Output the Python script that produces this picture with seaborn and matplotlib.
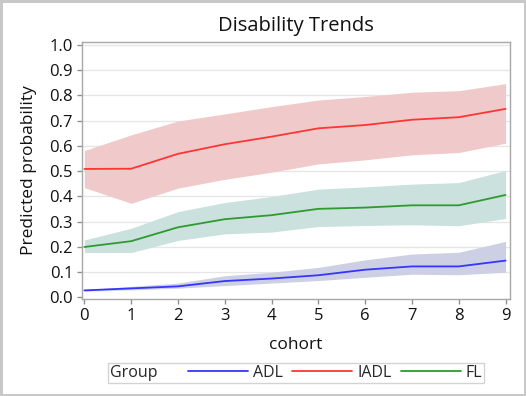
import numpy as np
import pandas as pd
import seaborn as sns
import matplotlib.pyplot as plt
from matplotlib.offsetbox import HPacker

cohort = list(range(10))
groups = ['ADL', 'IADL', 'FL']

adl = [0.028, 0.036, 0.044, 0.065, 0.075, 0.088, 0.110, 0.123, 0.123, 0.146]
adl_lo = [0.025, 0.030, 0.037, 0.047, 0.057, 0.067, 0.080, 0.092, 0.090, 0.100]
adl_hi = [0.030, 0.044, 0.057, 0.086, 0.100, 0.119, 0.149, 0.172, 0.179, 0.222]

iadl = [0.509, 0.510, 0.569, 0.607, 0.637, 0.670, 0.683, 0.704, 0.714, 0.747]
iadl_lo = [0.435, 0.373, 0.433, 0.468, 0.496, 0.529, 0.545, 0.565, 0.574, 0.611]
iadl_hi = [0.582, 0.644, 0.699, 0.727, 0.756, 0.782, 0.796, 0.813, 0.819, 0.847]

fl = [0.200, 0.223, 0.278, 0.310, 0.326, 0.351, 0.356, 0.365, 0.365, 0.406]
fl_lo = [0.178, 0.178, 0.226, 0.252, 0.259, 0.281, 0.285, 0.288, 0.284, 0.313]
fl_hi = [0.228, 0.274, 0.340, 0.376, 0.400, 0.429, 0.438, 0.449, 0.455, 0.503]

line_colors = {'ADL': '#3535ff', 'IADL': '#ff3535', 'FL': '#2f9a2f'}
band_colors = {'ADL': '#cdd0e4', 'IADL': '#f0caca', 'FL': '#cae1dd'}

df = pd.DataFrame({
    'cohort': cohort * 3,
    'prob': adl + iadl + fl,
    'Group': ['ADL'] * 10 + ['IADL'] * 10 + ['FL'] * 10,
})
bands = {'ADL': (adl_lo, adl_hi), 'IADL': (iadl_lo, iadl_hi), 'FL': (fl_lo, fl_hi)}

sns.set_theme(style='white')
plt.rcParams['font.family'] = ['Open Sans', 'DejaVu Sans']

fig = plt.figure(figsize=(5.26, 3.96), dpi=100)
ax = fig.add_axes([0.156, 0.245, 0.814, 0.649])

for g in groups:
    lo, hi = bands[g]
    ax.fill_between(cohort, lo, hi, color=band_colors[g], linewidth=0, zorder=1)

for y in np.arange(0.1, 1.01, 0.1):
    ax.axhline(y, color='#e6e6e6', linewidth=1, zorder=0.5)

sns.lineplot(data=df, x='cohort', y='prob', hue='Group', palette=line_colors,
             linewidth=1.3, ax=ax, legend=False, zorder=3)

ax.set_xlim(-0.05, 9.1)
ax.set_ylim(-0.006, 1.012)
ax.set_xticks(cohort)
ax.set_yticks(np.round(np.arange(0, 1.01, 0.1), 1))
ax.set_yticklabels([f'{v:.1f}' for v in np.arange(0, 1.01, 0.1)])
ax.tick_params(axis='both', labelsize=12, length=3.5, width=1, color='#909090',
               bottom=True, left=True, pad=3, labelcolor='#111111')
for s in ax.spines.values():
    s.set_color('#a8a8a8')
    s.set_linewidth(1)

ax.set_xlabel('cohort', fontsize=12.5, labelpad=9, color='#111111')
ax.set_ylabel('Predicted probability', fontsize=12.5, labelpad=9, color='#111111')
ax.set_title('Disability Trends', fontsize=14.5, pad=8, color='#111111')

handles = [plt.Line2D([], [], color=line_colors[g], linewidth=1.3) for g in groups]
leg = fig.legend(handles, groups, title='Group', ncol=3, loc='center',
                 bbox_to_anchor=(0.563, 0.058), fontsize=11.5, title_fontsize=11.5,
                 frameon=True, fancybox=False, handlelength=3.75, handletextpad=0.3,
                 columnspacing=0.6, borderpad=0.15, edgecolor='#c8c8c8')
leg.get_frame().set_linewidth(1)
# put the title on the left of the entries, like the SAS legend
leg._legend_box.__class__ = HPacker
leg._legend_box.sep = 22
leg._legend_box.align = 'center'

fig.patch.set_edgecolor('#c8c8c8')
fig.patch.set_linewidth(2.5)

plt.savefig('out.png', dpi=100)
